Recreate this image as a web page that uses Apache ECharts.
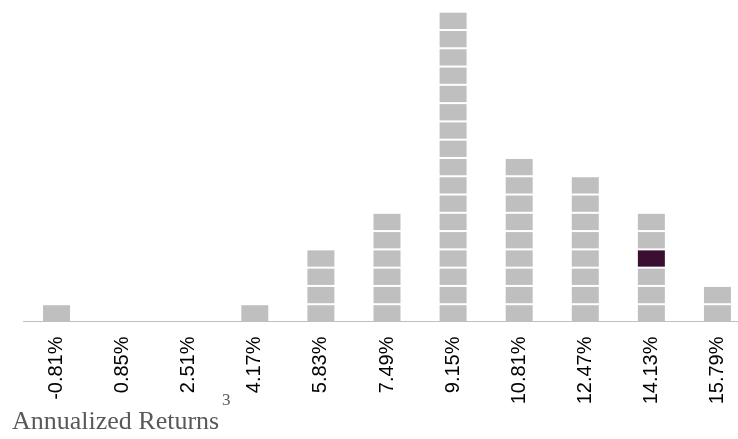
<!DOCTYPE html>
<html>
<head>
<meta charset="utf-8">
<style>
  html, body { margin: 0; padding: 0; background: #fff; }
  #chart { width: 738px; height: 439px; }
</style>
<script src="https://cdn.jsdelivr.net/npm/echarts@6/dist/echarts.min.js"></script>
</head>
<body>
<div id="chart"></div>
<script>
// annualized return buckets and how many blocks sit in each
var categories = ['-0.81%', '0.85%', '2.51%', '4.17%', '5.83%', '7.49%', '9.15%', '10.81%', '12.47%', '14.13%', '15.79%'];
var counts = [1, 0, 0, 1, 4, 6, 17, 9, 8, 6, 2];
// the one highlighted block (category, position counted from the bottom)
var highlightCategory = '14.13%';
var highlightBlock = 4;

var grey = '#bfbfbf';
var dark = '#3a0f31';

// one data item per block: [category index, block level from 0]
var blocks = [];
categories.forEach(function (c, i) {
  for (var k = 0; k < counts[i]; k++) {
    blocks.push([i, k, (c === highlightCategory && k + 1 === highlightBlock) ? 1 : 0]);
  }
});

var chart = echarts.init(document.getElementById('chart'));

var option = {
  animation: false,
  grid: {
    left: 23.5,
    top: 10.7,
    width: 727,
    height: 310.8,
    containLabel: false,
    outerBoundsMode: 'none'
  },
  xAxis: {
    type: 'category',
    data: categories,
    axisTick: { show: false },
    axisLine: { lineStyle: { color: grey, width: 1 } },
    axisLabel: {
      rotate: 90,
      margin: 15,
      color: '#000',
      fontSize: 20,
      fontFamily: 'Liberation Sans, Arial, sans-serif'
    }
  },
  yAxis: {
    type: 'value',
    min: 0,
    max: 17,
    show: false
  },
  series: [{
    type: 'custom',
    data: blocks,
    z: 3,
    renderItem: function (params, api) {
      var bottom = api.coord([api.value(0), api.value(1)]);
      var top = api.coord([api.value(0), api.value(1) + 1]);
      var w = 27;
      return {
        type: 'rect',
        shape: {
          x: bottom[0] - w / 2,
          y: top[1] + 2,
          width: w,
          height: bottom[1] - top[1] - 2
        },
        style: { fill: api.value(2) ? dark : grey }
      };
    }
  }],
  graphic: [{
    type: 'text',
    left: 12,
    top: 409,
    style: {
      text: 'Annualized Returns',
      font: '26px "Liberation Serif", "Times New Roman", serif',
      fill: '#595959'
    }
  }, {
    type: 'text',
    left: 222,
    top: 392,
    style: {
      text: '3',
      font: '17px "Liberation Serif", "Times New Roman", serif',
      fill: '#595959'
    }
  }]
};

chart.setOption(option);
</script>
</body>
</html>
